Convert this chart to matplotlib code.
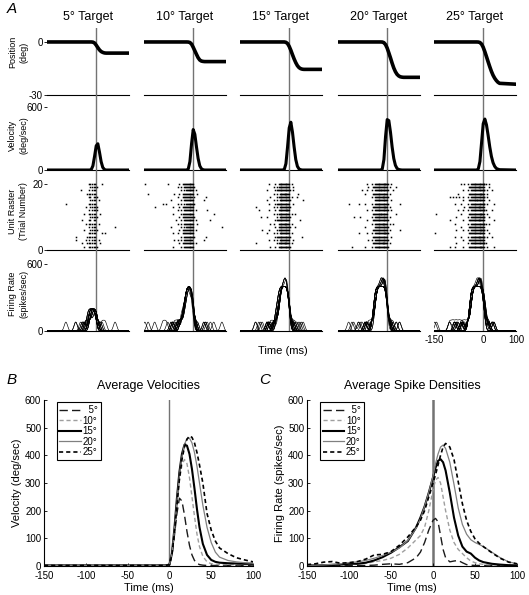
import numpy as np
import matplotlib
matplotlib.use('Agg')
import matplotlib.pyplot as plt

plt.rcParams['font.family'] = ['Liberation Sans', 'DejaVu Sans']
plt.rcParams['axes.unicode_minus'] = False

# -------------------------
# Panel A data (single trials, one column per target)
# -------------------------
targets = [5, 10, 15, 20, 25]

a_time = [-150, -20, -15, -10, -5, 0, 5, 10, 15, 20, 25, 30, 35, 40, 45, 50, 100]
a_position = [
    [0, 0, 0, -0.1, -0.6, -1.8, -3.2, -4.5, -5.4, -5.9, -6.2, -6.3, -6.3, -6.3, -6.3, -6.3, -6.3],
    [0, 0, -0.05, -0.3, -1.2, -3.0, -5.0, -7.0, -8.9, -10.2, -10.8, -11.0, -11.1, -11.1, -11.1, -11.1, -11.1],
    [0, 0, 0, -0.2, -0.9, -2.5, -4.7, -7.2, -9.6, -11.7, -13.4, -14.5, -15.1, -15.4, -15.5, -15.5, -15.5],
    [0, 0, -0.05, -0.4, -1.5, -3.5, -6.2, -9.0, -12.0, -14.7, -16.8, -18.3, -19.2, -19.7, -19.9, -20.0, -20.0],
    [0, 0, -0.05, -0.3, -1.2, -3.0, -5.5, -8.3, -11.2, -14.0, -16.6, -18.8, -20.5, -21.8, -22.8, -23.4, -23.9],
]
a_velocity = [
    [0, 0, 5, 40, 130, 230, 250, 170, 80, 25, 5, 0, 0, 0, 0, 0, 0],
    [0, 0, 10, 80, 250, 385, 340, 220, 110, 40, 12, 3, 0, 0, 0, 0, 0],
    [0, 0, 5, 60, 220, 400, 455, 360, 220, 100, 35, 10, 3, 0, 0, 0, 0],
    [0, 0, 10, 100, 320, 480, 470, 360, 220, 110, 45, 15, 5, 2, 0, 0, 0],
    [0, 0, 10, 80, 260, 440, 485, 430, 330, 220, 130, 70, 35, 15, 8, 3, 0],
]

# spike counts per 5 ms bin from -150 to 100 ms, trial 20 (top) to trial 1
raster_rows = {
    5: [
        "..... ..... ..... ..... ..... 11111 ...1. ..... ..... .....",
        "..... ..... ..... ..... ..... .1111 1.... ..... ..... .....",
        "..... ..... ..... ..... 1.... 1.111 ..... ..... ..... .....",
        "..... ..... ..... ..... ....1 11111 ..... ..... ..... .....",
        "..... ..... ..... ..... ..... 11.11 1.... ..... ..... .....",
        "..... ..... ..... ..... ..... .1111 .1... ..... ..... .....",
        "..... ..... .1... ..... ..... 11111 ..... ..... ..... .....",
        "..... ..... ..... ..... ...1. .1111 1.... ..... ..... .....",
        "..... ..... ..... ..... ..... 1.111 1.... ..... ..... .....",
        "..... ..... ..... ..... ..1.. 11111 ..1.. ..... ..... .....",
        "..... ..... ..... ..... ..... .1111 1.... ..... ..... .....",
        "..... ..... ..... ..... .1... 11.11 ..... ..... ..... .....",
        "..... ..... ..... ..... ...1. 11111 .1... ..... ..... .....",
        "..... ..... ..... ..... ..... 1.111 ..... ..... .1... .....",
        "..... ..... ..... ..... ..1.. .1111 1.... ..... ..... .....",
        "..... ..... ..... ..... ..... 11111 ...1. 1.... ..... .....",
        "..... ..... ..... ..1.. ....1 11111 ..... ..... ..... .....",
        "..... ..... ..... ..1.. ...1. 1.111 .1... ..... ..... .....",
        "..... ..... ..... ..... .1..1 11111 ..1.. ..... ..... .....",
        "..... ..... ..... ..... ..1.. 11111 1.... ..... ..... .....",
    ],
    10: [
        "1.... ..... ....1 ..... .1.11 22222 ..... ..... ..... .....",
        "..... ..... ..... ..... 1.1.1 22222 1.... ..... ..... .....",
        "..... ..... ..... ..... ..1.1 12222 .1... ..... ..... .....",
        "..1.. ..... ..... ...1. .1.11 22222 ..1.. ..... ..... .....",
        "..... ..... ..... ..... 1..11 22221 1.... ..1.. ..... .....",
        "..... ..... ..... .1... ..1.1 22222 ..... .1... ..... .....",
        "..... ..... .1.1. ..... 1.1.1 12222 1.... ..... ..... .....",
        "..... .1... ..... ..1.. .1.11 22222 ..... ..... ..... .....",
        "..... ..... ..... ..... 1.1.1 22222 .1... ...1. ..... .....",
        "..... ..... ..... ..1.. ..111 22222 ..... ..... ..1.. .....",
        "..... ..... ..... ..... .1.11 22212 1.... ..... ..... .....",
        "..... ..... ..... ....1 ..1.1 22222 .1... ..... 1.... .....",
        "..... ..... ..... ..... 1.1.1 22222 ..1.. ..... ..... .....",
        "..... ..... ..... .1... ..1.1 12222 ..... ..... ..... ..1..",
        "..... ..... ..... ..... .1.11 22222 .1... ..... ..... .....",
        "..... ..... ..... ..1.. 1..11 22222 ..... ..... ..... .....",
        "..... ..... ..... ..... ..1.1 22222 1.... ..1.. ..... .....",
        "..... ..... ..... ...1. 1.1.1 22221 ..... .1... ..... .....",
        "..... ..... ..... ..... .1.11 22222 .1... ..... ..... .....",
        "..... ..... ..... ..1.. ..1.1 22222 ..... ..... ..... .....",
    ],
    15: [
        "..... ..... ..... ..1.. .1.12 22222 .1... ..... ..... .....",
        "..... ..... ..... ..... 1.112 22222 ..1.. ..... ..... .....",
        "..... ..... ..... .1... .1122 22222 1.1.. ..... ..... .....",
        "..... ..... ..... ..... 1.1.2 22322 ..... 1.... ..... .....",
        "..... ..... ..... ...1. ..112 22222 .1..1 ..... ..... .....",
        "..... ..... ..... .1... 1.1.2 22222 1.... ...1. ..... .....",
        "..... ..... ..... ..1.. .1122 22222 ..1.. ..... ..... .....",
        "..... ....1 ..... ..... 1.1.2 22222 1.... ..... ..... .....",
        "..... ..... .1... ..1.. .1.12 22232 ..... ..... ..... .....",
        "..... ..... ..... ..... 1.112 22222 .1.1. ..... ..... .....",
        "..... ..... ..1.. .1... ..1.2 22222 1.... ..... ..... .....",
        "..... ..... ..... ..... .1122 22222 ..... .1... ..... .....",
        "..... ..... ..... ...1. 1..12 22322 .1... ..... ..... .....",
        "..... ..... ..... ..... .1.12 22222 1..1. ..... ..... .....",
        "..... ..... ...1. ..1.. ..112 22222 ..... ..... ..... .....",
        "..... ..... ..... .1... 1.1.2 22222 .1... ..... ..... .....",
        "..... ..... ..... ..... .1122 22222 1.... ..1.. ..... .....",
        "..... ..... ..... ..1.. 1.1.2 22222 ..1.. ..... ..... .....",
        "..... ....1 ..... ..... ..112 22322 .1... ..... ..... .....",
        "..... ..... ..... ...1. .1.12 22222 1.... ..... ..... .....",
    ],
    20: [
        "..... ..... ..... ..1.. 1.122 22232 1.1.. ..... ..... .....",
        "..... ..... ..... ...1. .1222 22222 .1... 1.... ..... .....",
        "..... ..... ....1 ..1.. 1.122 23222 1..1. ..... ..... .....",
        "..... ..... ..... .1... .1222 22222 .1... ..... ..... .....",
        "..... ..... ..... ..... 1.122 22322 1.... ..... ..... .....",
        "..... ..... ..... ..... ..122 22222 ..1.. ..... ..... .....",
        "..... .1... ..1.. .1... 1.122 22222 1.... ..1.. ..... .....",
        "..... ..... ..... ..... .1222 22232 .1... ..... ..... .....",
        "..... ..... ..... ..1.. 1.122 22222 1.1.. ..... ..... .....",
        "..... ..... ..... ..... .1222 23222 ..... 1.... ..... .....",
        "..... ....1 ...1. ..... 1.122 22222 .1... ..... ..... .....",
        "..... ..... ..... ..1.. .1222 22222 1.... ..... ..... .....",
        "..... ..... ..... ..... 1.122 22322 .1.1. ..... ..... .....",
        "..... ..... ..... .1... ..122 22222 1.... ..... ..... .....",
        "..... ..... ..... ..... .1222 22222 .1... ..1.. ..... .....",
        "..... ..... ..1.. ..1.. 1.122 22232 1.... ..... ..... .....",
        "..... ..... ..... ..... .1222 22222 ..1.. ..... ..... .....",
        "..... ..... ..... ...1. 1.122 22222 1.... ..... ..... .....",
        "..... ..... ..... ..... .1222 22322 .1... ..... ..... .....",
        "..... ...1. ..... .1... 1.122 22222 1.... ..... ..... .....",
    ],
    25: [
        "..... ..... ..... .1.1. 1.122 22222 21.1. ..... ..... .....",
        "..... ..... ..... ..... .1222 22322 1..1. ..... ..... .....",
        "..... ..... ..... ..1.. 1.122 22222 2.1.. 1.... ..... .....",
        "..... ..... ....1 ..... .1222 22232 1.1.. ..... ..... .....",
        "..... ....1 .1.1. 1.1.. 1.122 22222 2.1.. ..... ..... .....",
        "..... ..... ..... ..1.. .1222 23222 1..1. ..... ..... .....",
        "..... ..... ..1.. .1... 1.122 22222 2.1.. .1... ..... .....",
        "..... ..... ..... ...1. .1222 22322 1.... ..... ..... .....",
        "..... ..... ....1 ..1.. 1.122 22222 21... 1.... ..... .....",
        ".1... ..... ..... .1... .1222 22232 1.1.. ..... ..... .....",
        "..... ..... ...1. ..... 1.122 22222 2..1. ..... ..... .....",
        "..... ....1 ..... ..1.. .1222 22322 1.... .1... ..... .....",
        "..... ..... ..1.. ..... 1.122 22222 21.1. ..... ..... .....",
        "..... ..... ..... .1... .1222 22222 1.... ..... ..... .....",
        "..... ..... ...1. ..1.. 1.122 22232 2.1.. ..... ..... .....",
        "1.... ..... ..... ..... .1222 22222 1..1. ..... ..... .....",
        "..... ..... ..1.. .1... 1.122 22322 2.1.. 1.... ..... .....",
        "..... ..... ..... ..1.. .1222 22222 1.... ..... ..... .....",
        "..... ..... ...1. ..... 1.122 22222 21... ..... ..... .....",
        "..... ....1 ..1.. ..1.. .1222 22232 1.1.. .1... ..... .....",
    ],
}

# -------------------------
# Panel B data: average velocities (deg/sec)
# -------------------------
b_time = [-150, -100, -50, -5, 0, 3, 6, 9, 12, 15, 18, 21, 24, 27, 30, 33, 36, 40, 45,
          50, 55, 60, 70, 80, 90, 100]
b_vel = {
    5:  [2, 2, 2, 2, 5, 40, 110, 190, 245, 235, 185, 125, 75, 40, 20, 10, 5, 3, 2,
         2, 2, 2, 2, 2, 2, 2],
    10: [2, 2, 2, 2, 5, 45, 130, 230, 310, 365, 385, 370, 320, 250, 180, 115, 70, 35, 15,
         8, 6, 5, 5, 5, 5, 5],
    15: [2, 2, 2, 2, 5, 45, 135, 245, 340, 405, 438, 435, 405, 350, 280, 205, 140, 80, 40,
         22, 15, 12, 10, 9, 8, 8],
    20: [2, 2, 2, 2, 5, 45, 130, 235, 330, 395, 440, 460, 462, 445, 410, 360, 300, 220, 140,
         85, 50, 32, 20, 15, 12, 10],
    25: [2, 2, 2, 2, 5, 40, 120, 220, 315, 385, 430, 458, 470, 465, 445, 410, 365, 300, 190,
         130, 90, 65, 45, 30, 22, 15],
}

# -------------------------
# Panel C data: average spike densities (spikes/sec)
# -------------------------
c_time = [-150, -140, -130, -120, -110, -100, -90, -80, -70, -60, -50, -40, -30, -20, -15,
          -10, -5, 0, 3, 6, 9, 12, 15, 20, 25, 30, 35, 40, 45, 50, 55, 60, 70, 80, 90, 100]
c_rate = {
    5:  [2, 2, 2, 2, 2, 2, 2, 2, 3, 6, 8, 6, 12, 30, 50,
         85, 130, 165, 172, 160, 110, 60, 30, 15, 18, 20, 12, 5, 3, 2, 2, 2, 2, 2, 2, 2],
    10: [3, 3, 3, 4, 5, 6, 8, 10, 15, 20, 28, 42, 65, 95, 110,
         140, 200, 275, 310, 320, 300, 250, 200, 130, 85, 60, 45, 30, 18, 12, 8, 6, 4, 3, 3, 3],
    15: [2, 2, 3, 4, 5, 8, 8, 12, 20, 32, 48, 68, 90, 140, 175,
         215, 265, 320, 355, 380, 386, 375, 345, 265, 175, 110, 70, 52, 45, 30, 20, 14, 8, 5, 3, 2],
    20: [3, 3, 4, 6, 8, 12, 15, 20, 28, 38, 50, 65, 92, 138, 170,
         215, 265, 325, 370, 405, 430, 437, 425, 375, 295, 210, 150, 115, 95, 85, 78, 70, 50, 30, 15, 8],
    25: [5, 8, 14, 16, 10, 12, 16, 25, 40, 42, 52, 75, 105, 142, 165,
         200, 250, 300, 330, 365, 400, 430, 443, 430, 385, 305, 225, 165, 125, 98, 82, 70, 48, 28, 14, 8],
}

# line styles for the averages
styles = {
    5:  dict(color='0.1', lw=1.0, dashes=(6, 3)),
    10: dict(color='0.62', lw=1.0, dashes=(3, 2)),
    15: dict(color='k', lw=1.5, ls='-'),
    20: dict(color='0.5', lw=0.9, ls='-'),
    25: dict(color='k', lw=1.2, dashes=(2.5, 1.8)),
}

# -------------------------
# Figure helpers
# -------------------------
W, H = 529, 595
fig = plt.figure(figsize=(W / 100, H / 100), dpi=100)


def px_axes(x0, y0, x1, y1):
    ax = fig.add_axes([x0 / W, 1 - y1 / H, (x1 - x0) / W, (y1 - y0) / H])
    ax.patch.set_visible(False)
    return ax


def spike_times(rows):
    times, trials = [], []
    for k, row in enumerate(rows):
        trial = len(rows) - k
        bins = row.replace(' ', '')
        for i, ch in enumerate(bins):
            if ch == '.':
                continue
            n = int(ch)
            for m in range(n):
                times.append(-150 + 5 * i + 5 * (m + 0.5) / n)
                trials.append(trial)
    return np.array(times), np.array(trials)


def sdf(times, grid, sigma=5.0):
    out = np.zeros_like(grid)
    for s in times:
        out += np.exp(-0.5 * ((grid - s) / sigma) ** 2)
    return out * 1000 / (sigma * np.sqrt(2 * np.pi))


# -------------------------
# Panel A
# -------------------------
col_left = [47, 144, 240, 338, 434]
col_w = 82
rows_px = [(28, 95), (95, 170), (170, 250), (250, 331)]
ylims = [(-30, 7.9), (0, 714), (0, 24.2), (0, 725)]
yticks = [[0, -30], [0, 600], [0, 20], [0, 600]]
grid = np.arange(-150, 100.5, 0.5)

for j, tgt in enumerate(targets):
    x0 = col_left[j]
    axs = []
    for r, (y0, y1) in enumerate(rows_px):
        ax = px_axes(x0, y0, x0 + col_w, y1)
        ax.set_xlim(-150, 100)
        ax.set_ylim(*ylims[r])
        for s in ['top', 'right', 'left']:
            ax.spines[s].set_visible(False)
        ax.spines['bottom'].set_linewidth(0.8)
        ax.axvline(0, color='0.45', lw=1.0, zorder=0)
        ax.set_xticks([])
        if j == 0:
            ax.set_yticks(yticks[r])
            ax.tick_params(axis='y', labelsize=7, length=2, width=0.6, pad=1)
        else:
            ax.set_yticks([])
        axs.append(ax)

    axs[0].set_title(f'{tgt}° Target', fontsize=9, pad=6)
    axs[0].plot(a_time, a_position[j], color='k', lw=2.6, solid_joinstyle='round')
    axs[1].plot(a_time, a_velocity[j], color='k', lw=2.2, solid_joinstyle='round')

    st, tr = spike_times(raster_rows[tgt])
    axs[2].plot(st, tr, 's', ms=1.1, mew=0, color='k')
    for trial in range(1, 21):
        axs[3].plot(grid, sdf(st[tr == trial], grid), color='k', lw=0.45)

    if j == len(targets) - 1:
        axs[3].set_xticks([-150, 0, 100])
        axs[3].tick_params(axis='x', labelsize=7, length=0, pad=3)

ylabels = [('Position\n(deg)', 52), ('Velocity\n(deg/sec)', 135),
           ('Unit Raster\n(Trial Number)', 211), ('Firing Rate\n(spikes/sec)', 294)]
for txt, yc in ylabels:
    fig.text(18 / W, 1 - yc / H, txt, rotation=90, ha='center', va='center',
             fontsize=6.5, linespacing=1.35, multialignment='center')

fig.text(283 / W, 1 - 351 / H, 'Time (ms)', ha='center', va='center', fontsize=8)
fig.text(12 / W, 1 - 9 / H, 'A', ha='center', va='center', fontsize=11, style='italic')

# -------------------------
# Panels B and C
# -------------------------
def avg_axes(x0, x1):
    ax = px_axes(x0, 400, x1, 566)
    ax.set_xlim(-150, 100)
    ax.set_ylim(0, 600)
    ax.spines['top'].set_visible(False)
    ax.spines['right'].set_visible(False)
    ax.spines['left'].set_linewidth(0.8)
    ax.spines['bottom'].set_linewidth(0.8)
    ax.set_xticks(range(-150, 101, 50))
    ax.set_yticks(range(0, 601, 100))
    ax.tick_params(direction='in', length=2.5, width=0.6, labelsize=7, pad=2)
    ax.tick_params(axis='x', pad=3.5)
    ax.set_xlabel('Time (ms)', fontsize=8, labelpad=1.5)
    return ax


def add_legend(ax, handles):
    leg = ax.legend(handles, ['  5°', '10°', '15°', '20°', '25°'],
                    loc='upper left', bbox_to_anchor=(0.06, 0.985), borderaxespad=0,
                    fontsize=7, handlelength=2.2, handletextpad=0.2, labelspacing=0.05,
                    borderpad=0.3, fancybox=False, framealpha=1, edgecolor='k')
    leg.get_frame().set_linewidth(0.8)


ax_b = avg_axes(44, 253)
ax_b.axvline(0, color='0.45', lw=1.0, zorder=0)
hb = []
for tgt in targets:
    line, = ax_b.plot(b_time, b_vel[tgt], **styles[tgt])
    hb.append(line)
add_legend(ax_b, hb)
ax_b.set_title('Average Velocities', fontsize=9, pad=8)
ax_b.set_ylabel('Velocity (deg/sec)', fontsize=8, labelpad=2)

ax_c = avg_axes(307, 517)
ax_c.axvline(0, color='0.45', lw=1.8, zorder=0)
hc = []
for tgt in targets:
    line, = ax_c.plot(c_time, c_rate[tgt], **styles[tgt])
    hc.append(line)
add_legend(ax_c, hc)
ax_c.set_title('Average Spike Densities', fontsize=9, pad=8)
ax_c.set_ylabel('Firing Rate (spikes/sec)', fontsize=8, labelpad=2)

fig.text(12 / W, 1 - 380 / H, 'B', ha='center', va='center', fontsize=11, style='italic')
fig.text(265 / W, 1 - 380 / H, 'C', ha='center', va='center', fontsize=11, style='italic')

fig.savefig('out.png', dpi=100)
